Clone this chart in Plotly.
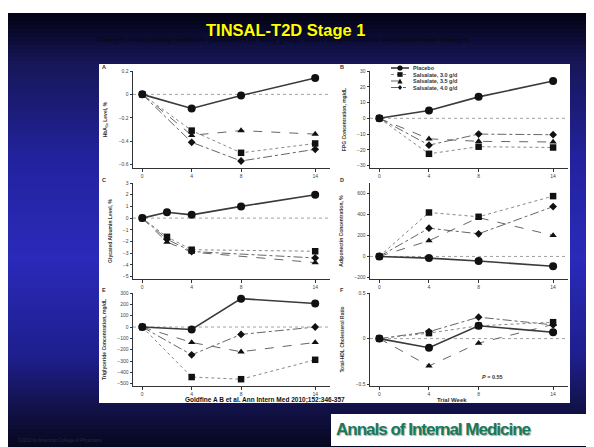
import plotly.graph_objects as go

W, H = 594, 447

# ---------------- data ----------------
weeks = [0, 4, 8, 14]
weeks_c_placebo = [0, 2, 4, 8, 14]
weeks_c_sals = [0, 2, 4, 14]
week_ticks = [0, 4, 8, 14]
week_labels = ["0", "4", "8", "14"]

group_names = ["Placebo", "Salsalate, 3.0 g/d", "Salsalate, 3.5 g/d", "Salsalate, 4.0 g/d"]

a_placebo = [0, -0.12, -0.01, 0.14]
a_sal30 = [0, -0.31, -0.50, -0.42]
a_sal35 = [0, -0.35, -0.31, -0.34]
a_sal40 = [0, -0.41, -0.57, -0.47]

b_placebo = [0, 5, 13.6, 23.6]
b_sal30 = [0, -22.5, -18, -18.5]
b_sal35 = [0, -13, -14.6, -15]
b_sal40 = [0, -17, -10, -10.4]

c_placebo = [0, 0.5, 0.28, 1.0, 2.0]
c_sal30 = [0, -1.6, -2.7, -2.83]
c_sal35 = [0, -2.05, -2.9, -3.8]
c_sal40 = [0, -1.8, -2.85, -3.4]

d_placebo = [0, -16, -44, -94]
d_sal30 = [0, 419, 378, 575]
d_sal35 = [0, 150, 370, 200]
d_sal40 = [0, 269, 216, 475]

e_placebo = [0, -22, 250, 207]
e_sal30 = [0, -441, -460, -289]
e_sal35 = [0, -136, -218, -136]
e_sal40 = [0, -245, -65, 0]

f_placebo = [0, -0.10, 0.14, 0.07]
f_sal30 = [0, 0.06, 0.14, 0.18]
f_sal35 = [0, -0.30, -0.05, 0.155]
f_sal40 = [0, 0.075, 0.235, 0.15]

a_ticks = [-0.6, -0.4, -0.2, 0, 0.2]
b_ticks = [-30, -20, -10, 0, 10, 20, 30]
c_ticks = [-5, -4, -3, -2, -1, 0, 1, 2, 3]
d_ticks = [-200, 0, 200, 400, 600]
e_ticks = [-500, -400, -300, -200, -100, 0, 100, 200, 300]
f_ticks = [-0.5, 0, 0.5]

# ---------------- helpers ----------------
def px(x):
    return x / W

def py(y):
    return 1 - y / H

styles = [
    dict(symbol="circle", size=8, line=dict(color="#3a3a3a", width=1.6, dash="solid")),
    dict(symbol="square", size=6.5, line=dict(color="#888", width=1, dash="dot")),
    dict(symbol="triangle-up", size=6.5, line=dict(color="#666", width=1, dash="dash")),
    dict(symbol="diamond", size=6, line=dict(color="#666", width=1, dash="dashdot")),
]

fig = go.Figure()

panels = [
    ("", [weeks] * 4, [a_placebo, a_sal30, a_sal35, a_sal40]),
    ("2", [weeks] * 4, [b_placebo, b_sal30, b_sal35, b_sal40]),
    ("3", [weeks_c_placebo, weeks_c_sals, weeks_c_sals, weeks_c_sals], [c_placebo, c_sal30, c_sal35, c_sal40]),
    ("4", [weeks] * 4, [d_placebo, d_sal30, d_sal35, d_sal40]),
    ("5", [weeks] * 4, [e_placebo, e_sal30, e_sal35, e_sal40]),
    ("6", [weeks] * 4, [f_placebo, f_sal30, f_sal35, f_sal40]),
]

for suf, xs, ys in panels:
    for gi in [3, 2, 1, 0]:
        st = styles[gi]
        fig.add_trace(go.Scatter(
            x=xs[gi], y=ys[gi], mode="lines+markers", name=group_names[gi],
            xaxis="x" + suf, yaxis="y" + suf, showlegend=False,
            line=st["line"],
            marker=dict(symbol=st["symbol"], size=st["size"], color="#111",
                        line=dict(width=0)),
            cliponaxis=False,
        ))

# ---------------- axes ----------------
xL = [px(125), px(322)]
xR = [px(362), px(560)]
rows = [[py(160), py(63)], [py(271), py(175)], [py(378), py(285)]]

axis_font = dict(family="Liberation Sans, Arial", size=5, color="#444")
title_font = dict(family="Liberation Sans, Arial", size=5, color="#333", weight="bold")

def xax(domain, anchor):
    return dict(domain=domain, anchor=anchor, range=[-0.75, 15.2],
                tickvals=week_ticks, ticktext=week_labels,
                showline=True, linecolor="#333", linewidth=1,
                ticks="outside", ticklen=2.5, tickwidth=1, tickcolor="#333",
                showgrid=False, zeroline=False, tickfont=axis_font,
                automargin=False, fixedrange=True)

def yax(domain, anchor, rng, tv, title):
    return dict(domain=domain, anchor=anchor, range=rng, tickvals=tv,
                showline=True, linecolor="#333", linewidth=1,
                ticks="outside", ticklen=2.5, tickwidth=1, tickcolor="#333",
                showgrid=False, zeroline=False, tickfont=axis_font,
                title=dict(text=title, font=title_font, standoff=10),
                automargin=False, fixedrange=True)

layout = dict(
    width=W, height=H, autosize=False,
    margin=dict(l=0, r=0, t=0, b=0),
    paper_bgcolor="#141450", plot_bgcolor="white",
    showlegend=False,
    xaxis=xax(xL, "y"), yaxis=yax(rows[0], "x", [-0.63, 0.2], a_ticks, "HbA<sub>1c</sub> Level, %"),
    xaxis2=xax(xR, "y2"), yaxis2=yax(rows[0], "x2", [-31.5, 30], b_ticks, "FPG Concentration, mg/dL"),
    xaxis3=xax(xL, "y3"), yaxis3=yax(rows[1], "x3", [-5.2, 3], c_ticks, "Glycated Albumin Level, %"),
    xaxis4=xax(xR, "y4"), yaxis4=yax(rows[1], "x4", [-215, 700], d_ticks, "Adiponectin Concentration, %"),
    xaxis5=xax(xL, "y5"), yaxis5=yax(rows[2], "x5", [-520, 300], e_ticks, "Triglyceride Concentration, mg/dL"),
    xaxis6=xax(xR, "y6"), yaxis6=yax(rows[2], "x6", [-0.52, 0.5], f_ticks, "Total-HDL Cholesterol Ratio"),
)
fig.update_layout(**layout)

# ---------------- background ----------------
shapes = []
stops = [(5, (2, 2, 18)), (55, (22, 22, 88)),
         (150, (34, 34, 158)), (250, (42, 42, 186)), (350, (30, 30, 140)),
         (400, (18, 18, 72)), (447, (4, 4, 22))]

def color_at(y):
    for (y0, c0), (y1, c1) in zip(stops[:-1], stops[1:]):
        if y0 <= y <= y1:
            t = (y - y0) / (y1 - y0)
            c = [round(c0[i] + (c1[i] - c0[i]) * t) for i in range(3)]
            return "rgb(%d,%d,%d)" % tuple(c)
    return "rgb(4,4,22)"

shapes.append(dict(type="rect", xref="paper", yref="paper", x0=0, x1=1, y0=py(5), y1=1,
                   fillcolor="white", line=dict(width=0), layer="below"))
step = 4
y = 5
while y < H:
    y2 = min(y + step, H)
    shapes.append(dict(type="rect", xref="paper", yref="paper", x0=0, x1=1,
                       y0=py(y2), y1=py(y), fillcolor=color_at((y + y2) / 2),
                       line=dict(width=0), layer="below"))
    y = y2

# white figure panel
shapes.append(dict(type="rect", xref="paper", yref="paper", x0=px(91), x1=px(562),
                   y0=py(395), y1=py(56), fillcolor="white", line=dict(width=0), layer="below"))

# dotted zero lines
for suf in ["", "2", "3", "4", "5", "6"]:
    shapes.append(dict(type="line", xref=("x" + suf) + " domain", yref="y" + suf,
                       x0=0, x1=1, y0=0, y1=0, line=dict(color="#888", width=0.8, dash="dot"),
                       layer="below"))

# logo box
shapes.append(dict(type="rect", xref="paper", yref="paper", x0=px(323), x1=1,
                   y0=py(438), y1=py(406), fillcolor="white", line=dict(width=0)))

# manual legend in panel B
leg_x0, leg_x1, leg_xm = 383, 401, 392
leg_rows = [60, 66.5, 73, 79.5]
for gi, ly in enumerate(leg_rows):
    st = styles[gi]
    shapes.append(dict(type="line", xref="paper", yref="paper", x0=px(leg_x0), x1=px(leg_x1),
                       y0=py(ly), y1=py(ly), line=dict(color=st["line"]["color"], width=st["line"]["width"],
                                                       dash=st["line"]["dash"])))
    r = 2.6
    if gi == 0:
        shapes.append(dict(type="circle", xref="paper", yref="paper", x0=px(leg_xm - r), x1=px(leg_xm + r),
                           y0=py(ly + r), y1=py(ly - r), fillcolor="#111", line=dict(width=0)))
    elif gi == 1:
        shapes.append(dict(type="rect", xref="paper", yref="paper", x0=px(leg_xm - r), x1=px(leg_xm + r),
                           y0=py(ly + r * 0.9), y1=py(ly - r * 0.9), fillcolor="#111", line=dict(width=0)))
    elif gi == 2:
        path = "M %f %f L %f %f L %f %f Z" % (px(leg_xm - r), py(ly + r), px(leg_xm + r), py(ly + r),
                                               px(leg_xm), py(ly - r))
        shapes.append(dict(type="path", xref="paper", yref="paper", path=path, fillcolor="#111", line=dict(width=0)))
    else:
        path = "M %f %f L %f %f L %f %f L %f %f Z" % (px(leg_xm - r * 0.8), py(ly), px(leg_xm), py(ly - r),
                                                      px(leg_xm + r * 0.8), py(ly), px(leg_xm), py(ly + r))
        shapes.append(dict(type="path", xref="paper", yref="paper", path=path, fillcolor="#111", line=dict(width=0)))

fig.update_layout(shapes=shapes)

# ---------------- text ----------------
ann = []
for gi, ly in enumerate(leg_rows):
    ann.append(dict(x=px(403), y=py(ly), xref="paper", yref="paper", text="<b>%s</b>" % group_names[gi],
                    showarrow=False, xanchor="left", yanchor="middle",
                    font=dict(family="Liberation Sans, Arial", size=5.5, color="#333")))

letters = [("A", 96, 59), ("B", 334, 59), ("C", 96, 172), ("D", 334, 172), ("E", 96, 282), ("F", 334, 282)]
for t, lx, ly in letters:
    ann.append(dict(x=px(lx), y=py(ly), xref="paper", yref="paper", text="<b>%s</b>" % t,
                    showarrow=False, xanchor="center", yanchor="middle",
                    font=dict(family="Liberation Sans, Arial", size=5.5, color="#333")))

ann.append(dict(x=9.1, y=-0.42, xref="x6", yref="y6", text="<b><i>P</i> = 0.55</b>", showarrow=False,
                font=dict(family="Liberation Sans, Arial", size=5.5, color="#333")))
ann.append(dict(x=px(461), y=py(392), xref="paper", yref="paper", text="<b>Trial Week</b>", showarrow=False,
                yanchor="middle", font=dict(family="Liberation Sans, Arial", size=6, color="#333")))

ann.append(dict(x=px(87), y=py(32), xref="paper", yref="paper", xanchor="left", yanchor="middle",
                text="<b>Changes in circulating metabolic parameters by study group. Values are provided as unadjusted mean changes.</b>",
                showarrow=False, font=dict(family="Liberation Sans, Arial", size=7, color="#0a0a14")))
ann.append(dict(x=px(278), y=py(22), xref="paper", yref="paper", xanchor="center", yanchor="middle",
                text="<b>TINSAL-T2D Stage 1</b>", showarrow=False,
                font=dict(family="Liberation Sans, Arial", size=16.5, color="#ffff00",
                          shadow="1px 1px 1px #000")))
ann.append(dict(x=px(257), y=py(392), xref="paper", yref="paper", xanchor="center", yanchor="middle",
                text="<b><u>Goldfine A B et al.</u> Ann Intern Med 2010;152:346-357</b>", showarrow=False,
                font=dict(family="Liberation Sans, Arial", size=6.5, color="#111")))
ann.append(dict(x=px(8), y=py(432), xref="paper", yref="paper", xanchor="left", yanchor="middle",
                text="©2010 by American College of Physicians", showarrow=False,
                font=dict(family="Liberation Sans, Arial", size=4.5, color="#2a2a3a")))
ann.append(dict(x=px(326), y=py(421), xref="paper", yref="paper", xanchor="left", yanchor="middle",
                text="<b><span style='letter-spacing:-1px'>Annals of Internal Medicine</span></b>", showarrow=False,
                font=dict(family="Liberation Sans, Arial", size=17, color="#167a5c",
                          shadow="1px 1px 1px #aaa")))
fig.update_layout(annotations=ann)

fig.write_html("out.html")
